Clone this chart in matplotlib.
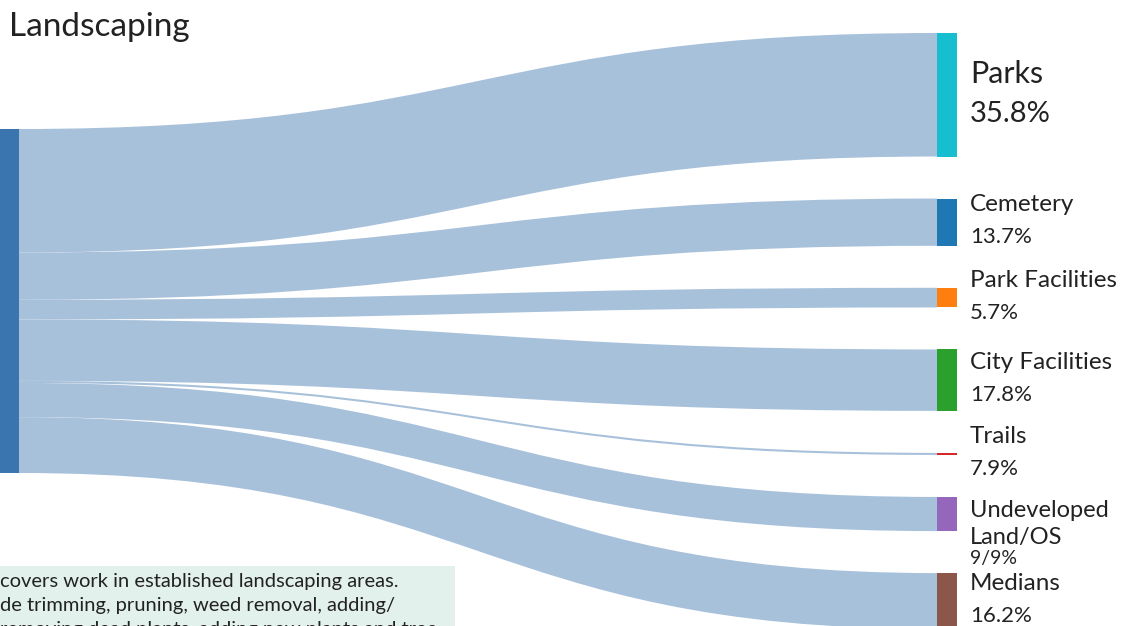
import matplotlib
matplotlib.use("Agg")
import matplotlib.pyplot as plt
from matplotlib.path import Path
from matplotlib.patches import PathPatch, Rectangle

# data
source = "Landscaping"
targets = ["Parks", "Cemetery", "Park Facilities", "City Facilities", "Trails",
           "Undeveloped\nLand/OS", "Medians"]
flow = [35.8, 13.7, 5.7, 17.8, 0.6, 9.9, 16.2]   # ribbon widths
pct_labels = ["35.8%", "13.7%", "5.7%", "17.8%", "7.9%", "9/9%", "16.2%"]
node_colors = ["#17becf", "#1f77b4", "#ff7f0e", "#2ca02c", "#d62728", "#9467bd", "#8c564b"]
note = ["covers work in established landscaping areas.",
        "de trimming, pruning, weed removal, adding/",
        "removing dead plants, adding new plants and tree"]

# layout (pixels)
W, H = 1137, 626
px = 344 / sum(flow)
gap = 42
tgt_top = 33
src_top = 129
x_src0, x_src1 = 0, 19
x_tgt0, x_tgt1 = 937, 957
link_col = "#a8c1db"
txt_col = '#222222'
plt.rcParams['font.family'] = ['Lato', 'DejaVu Sans']

fig = plt.figure(figsize=(W / 100, H / 100), dpi=100)
ax = fig.add_axes([0, 0, 1, 1])
ax.set_xlim(0, W)
ax.set_ylim(H, 0)
ax.axis('off')

# links + target nodes
ys = src_top
yt = tgt_top
centers = []
for i, v in enumerate(flow):
    h = v * px
    xm = (x_src1 + x_tgt0) / 2
    verts = [(x_src1, ys), (xm, ys), (xm, yt), (x_tgt0, yt),
             (x_tgt0, yt + h), (xm, yt + h), (xm, ys + h), (x_src1, ys + h),
             (x_src1, ys)]
    codes = [Path.MOVETO, Path.CURVE4, Path.CURVE4, Path.CURVE4,
             Path.LINETO, Path.CURVE4, Path.CURVE4, Path.CURVE4, Path.CLOSEPOLY]
    ax.add_patch(PathPatch(Path(verts, codes), facecolor=link_col, edgecolor='none'))
    ax.add_patch(Rectangle((x_tgt0, yt), x_tgt1 - x_tgt0, h, facecolor=node_colors[i],
                           edgecolor='none'))
    centers.append(yt + h / 2)
    ys += h
    yt += h + gap

# source node
ax.add_patch(Rectangle((x_src0, src_top), x_src1 - x_src0, sum(flow) * px,
                       facecolor="#3a75b0", edgecolor='none'))

ax.text(9, 36, source, fontsize=24, color=txt_col, va='baseline')

# target labels
for i, name in enumerate(targets):
    c = centers[i]
    if i == 0:
        ax.text(970, c - 12, name, fontsize=22, color=txt_col, va='baseline')
        ax.text(970, c + 27, pct_labels[i], fontsize=21, color=txt_col, va='baseline')
        continue
    lines = name.split('\n')
    if len(lines) > 1:
        y = c + 3
        for ln in lines:
            ax.text(970, y, ln, fontsize=17, color=txt_col, va='baseline')
            y += 26.5
        ax.text(970, y - 6, pct_labels[i], fontsize=14, color=txt_col, va='baseline')
    else:
        ax.text(970, c - 11, name, fontsize=17.5, color=txt_col, va='baseline')
        ax.text(970, c + 21, pct_labels[i], fontsize=16, color=txt_col, va='baseline')

# note box (cut by the figure edge, as in the original)
ax.add_patch(Rectangle((-5, 566), 460, 80, facecolor="#e3f1ed", edgecolor='none', zorder=3))
for k, ln in enumerate(note):
    ax.text(0, 587 + k * 24, ln, fontsize=14.5, color=txt_col, va='baseline', zorder=4)

fig.savefig("out.png", dpi=100)
